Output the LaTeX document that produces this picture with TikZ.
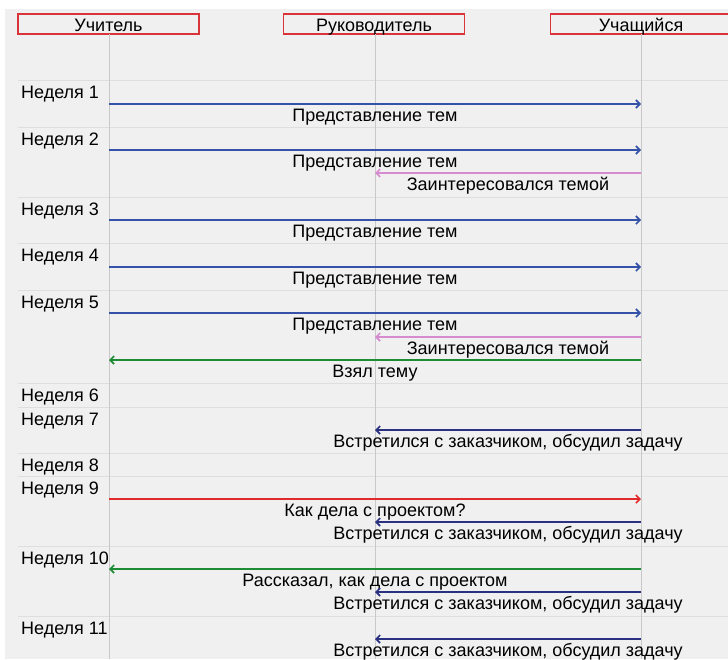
\documentclass[tikz,border=0pt]{standalone}
\usepackage{fontspec}
\setmainfont{Liberation Sans}
\usetikzlibrary{arrows.meta,positioning}

\definecolor{bggray}{HTML}{F0F0F0}
\definecolor{linegray}{HTML}{C8C8C8}
\definecolor{sepgray}{HTML}{DEDEDE}
\definecolor{boxred}{HTML}{D8343A}
\definecolor{msgblue}{HTML}{3452A8}
\definecolor{msgpink}{HTML}{D68AD0}
\definecolor{msggreen}{HTML}{1E8C34}
\definecolor{msgred}{HTML}{E32A2A}
\definecolor{msgnavy}{HTML}{2A3180}

\begin{document}
\begin{tikzpicture}[x=1pt,y=-1pt,
        actor/.style = {
            draw=boxred,
            line width=1.4pt,
            minimum width=181pt,
            minimum height=20pt,
            inner sep=0pt,
            text height=15.5pt,
            text depth=1.5pt,
            font=\fontsize{18}{18}\selectfont
        },
        week/.style = {anchor=base west, inner sep=0pt, font=\fontsize{18}{18}\selectfont},
        msglabel/.style = {anchor=base, inner sep=0pt, font=\fontsize{18}{18}\selectfont, text=black},
        lifeline/.style = {draw=linegray, line width=1pt},
        sep/.style = {draw=sepgray, line width=1pt},
        msg/.style = {line width=1.6pt, -{Straight Barb[length=4pt,width=8pt]}}]

        \useasboundingbox (0,0) rectangle (728,659);
        \fill[bggray] (5,9) rectangle (728,659);

        \node[actor] (teacher) at (108.5,24) {Учитель};
        \node[actor] (head) at (374,24) {Руководитель};
        \node[actor] (student) at (641,24) {Учащийся};

        \coordinate (T) at (109,34);
        \coordinate (R) at (375,34);
        \coordinate (S) at (641,34);

        \foreach \rowy [count=\n] in {80,127,197,243,290,383,407,453,476,546,616}{
            \draw[sep] (18,\rowy) -- (728,\rowy);
            \node[week] (week\n) at (21,\rowy+18) {Неделя \n};
        }

        \draw[lifeline] (T) -- (T |- 0,659);
        \draw[lifeline] (R) -- (R |- 0,659);
        \draw[lifeline] (S) -- (S |- 0,659);

        \foreach \y/\from/\to/\col/\txt [count=\i] in {
            104/T/S/msgblue/{Представление тем},
            150/T/S/msgblue/{Представление тем},
            173/S/R/msgpink/{Заинтересовался темой},
            220/T/S/msgblue/{Представление тем},
            267/T/S/msgblue/{Представление тем},
            313/T/S/msgblue/{Представление тем},
            337/S/R/msgpink/{Заинтересовался темой},
            360/S/T/msggreen/{Взял тему},
            430/S/R/msgnavy/{Встретился с заказчиком, обсудил задачу},
            499/T/S/msgred/{Как дела с проектом?},
            522/S/R/msgnavy/{Встретился с заказчиком, обсудил задачу},
            569/S/T/msggreen/{Рассказал, как дела с проектом},
            592/S/R/msgnavy/{Встретился с заказчиком, обсудил задачу},
            639/S/R/msgnavy/{Встретился с заказчиком, обсудил задачу}}{
            \coordinate (src\i) at (\from |- 0,\y);
            \coordinate (dst\i) at (\to |- 0,\y);
            \draw[msg, draw=\col] (src\i) -- (dst\i)
                node[msglabel, midway, yshift=-17pt] (lbl\i) {\txt};
        }
    \end{tikzpicture}
\end{document}
